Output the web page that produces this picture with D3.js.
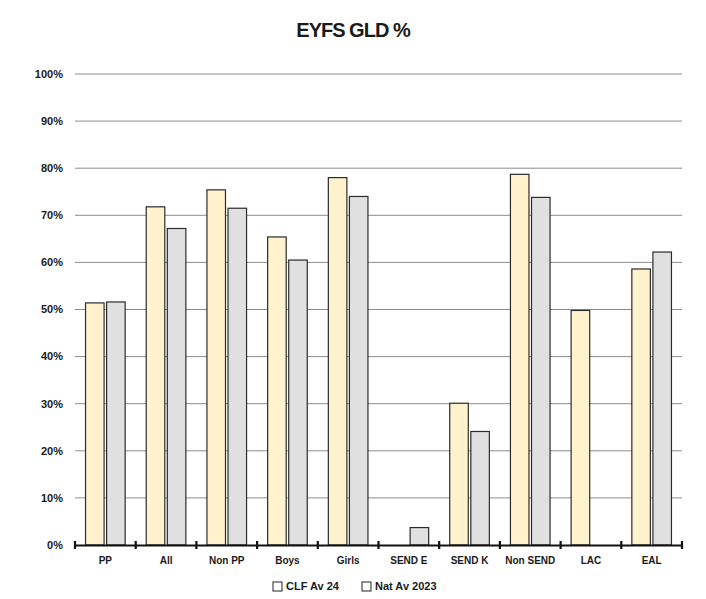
<!DOCTYPE html>
<html><head><meta charset="utf-8">
<script src="https://cdn.jsdelivr.net/npm/d3@7"></script>
<style>body{margin:0;background:#fff;}svg{display:block;font-family:"Liberation Sans",Arial,sans-serif;}</style>
</head><body>
<script>
const categories = ["PP","All","Non PP","Boys","Girls","SEND E","SEND K","Non SEND","LAC","EAL"];
const clfAv24 = [51.4, 71.8, 75.4, 65.4, 78.0, 0, 30.1, 78.7, 49.8, 58.6];
const natAv2023 = [51.6, 67.2, 71.5, 60.5, 74.0, 3.7, 24.1, 73.8, 0, 62.2];
const seriesNames = ["CLF Av 24", "Nat Av 2023"];
const yTicks = [0,10,20,30,40,50,60,70,80,90,100];

const W = 706, H = 599;
const m = {left: 75, right: 24, top: 74, bottom: 54};
const svg = d3.select("body").append("svg").attr("width", W).attr("height", H);

const x = d3.scaleBand().domain(categories).range([m.left, W - m.right]).paddingInner(0).paddingOuter(0);
const xs = d3.scaleBand().domain(seriesNames).range([0, x.bandwidth()]).paddingInner(0.12).paddingOuter(0.5);
const y = d3.scaleLinear().domain([0, 100]).range([H - m.bottom, m.top]);

// gridlines
svg.append("g").selectAll("line").data(yTicks.filter(d => d > 0)).join("line")
  .attr("x1", m.left).attr("x2", W - m.right)
  .attr("y1", d => y(d)).attr("y2", d => y(d))
  .attr("stroke", "#8c8c8c").attr("stroke-width", 1);

// y labels
svg.append("g").selectAll("text").data(yTicks).join("text")
  .attr("x", 63).attr("y", d => y(d)).attr("dy", "0.35em")
  .attr("text-anchor", "end").attr("font-size", 11).attr("font-weight", "bold").attr("fill", "#1a1a1a")
  .text(d => d + "%");

// bars
const colors = ["#FFF2CC", "#E0E0E0"];
const data = categories.map((c, i) => ({c, vals: [clfAv24[i], natAv2023[i]]}));
const groups = svg.append("g").selectAll("g").data(data).join("g")
  .attr("transform", d => `translate(${x(d.c)},0)`);
groups.selectAll("rect").data(d => d.vals.map((v, j) => ({v, s: seriesNames[j], j})).filter(e => e.v > 0))
  .join("rect")
  .attr("x", e => xs(e.s)).attr("width", xs.bandwidth())
  .attr("y", e => y(e.v)).attr("height", e => y(0) - y(e.v))
  .attr("fill", e => colors[e.j]).attr("stroke", "#2b2b2b").attr("stroke-width", 1.2);

// x axis
const axis = d3.axisBottom(x).tickSize(0).tickPadding(12);
const ax = svg.append("g").attr("transform", `translate(0,${y(0)})`).call(axis);
ax.select(".domain").attr("stroke", "#111").attr("stroke-width", 2.2);
ax.selectAll("text").attr("font-size", 10).attr("font-weight", "bold").attr("fill", "#1a1a1a")
  .attr("font-family", "'Liberation Sans',Arial,sans-serif");
// boundary ticks
const bounds = categories.map(c => x(c)).concat([x(categories[categories.length-1]) + x.bandwidth()]);
svg.append("g").selectAll("line").data(bounds).join("line")
  .attr("x1", d => d).attr("x2", d => d)
  .attr("y1", y(0) - 4).attr("y2", y(0) + 4)
  .attr("stroke", "#111").attr("stroke-width", 2.2);

// title
svg.append("text").attr("x", 353).attr("y", 37).attr("text-anchor", "middle")
  .attr("font-size", 20).attr("font-weight", "bold").attr("fill", "#1a1a1a")
  .attr("letter-spacing", "-1").text("EYFS GLD %");

// legend
const legend = svg.append("g").attr("transform", "translate(273,590)");
const legX = [0, 89];
seriesNames.forEach((s, i) => {
  const g = legend.append("g").attr("transform", `translate(${legX[i]},0)`);
  g.append("rect").attr("x", 0).attr("y", -8).attr("width", 9).attr("height", 9)
    .attr("fill", "#fff").attr("stroke", "#222").attr("stroke-width", 1);
  g.append("text").attr("x", 13).attr("y", 0).attr("font-size", 11).attr("font-weight", "bold")
    .attr("fill", "#1a1a1a").text(s);
});
</script>
</body></html>
